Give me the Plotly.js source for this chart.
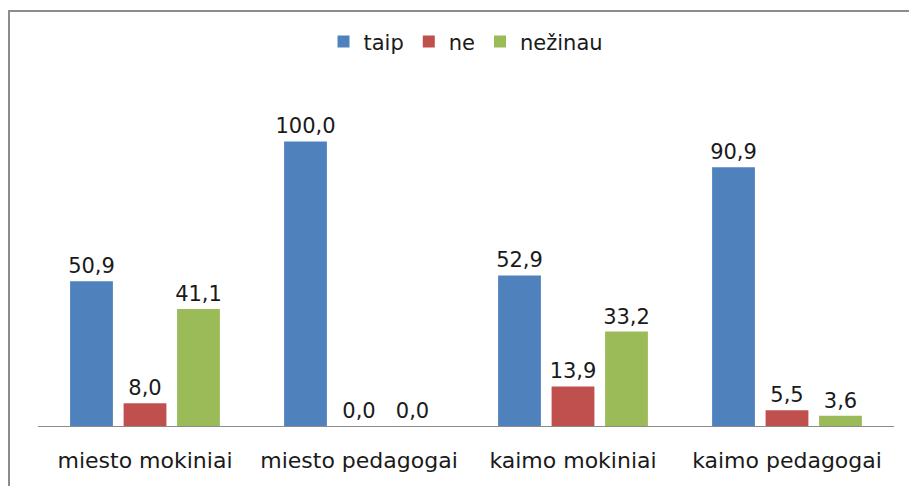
<!DOCTYPE html>
<html>
<head>
<meta charset="utf-8">
<script src="https://cdn.plot.ly/plotly-3.0.1.min.js"></script>
<style>
  html, body { margin: 0; padding: 0; background: #fff; }
  #wrap { position: relative; width: 909px; height: 486px; }
  #chart { position: absolute; left: 0; top: 0; width: 909px; height: 486px; }
  #frame { position: absolute; left: 8px; top: 10px; right: 0; bottom: -4px;
           border-left: 2px solid #8c8c8c; border-top: 2px solid #8c8c8c; pointer-events: none; }
</style>
</head>
<body>
<div id="wrap">
  <div id="chart"></div>
  <div id="frame"></div>
</div>
<script>
const categories = ["miesto mokiniai", "miesto pedagogai", "kaimo mokiniai", "kaimo pedagogai"];
const seriesNames = ["taip", "ne", "nežinau"];
const taip = [50.9, 100.0, 52.9, 90.9];
const ne = [8.0, 0.0, 13.9, 5.5];
const nezinau = [41.1, 0.0, 33.2, 3.6];
const colors = ["#4F81BD", "#C0504D", "#9BBB59"];

const font = "DejaVu Sans, sans-serif";
const allSeries = [taip, ne, nezinau];
const traces = allSeries.map((vals, i) => ({
  type: "bar",
  name: seriesNames[i],
  x: categories,
  y: vals,
  marker: { color: colors[i], line: { width: 12, color: "rgba(0,0,0,0)" } },
  texttemplate: "%{y:.1f}",
  textposition: "outside",
  textangle: 0,
  constraintext: "none",
  cliponaxis: false,
  textfont: { family: font, size: 21, color: "#1a1a1a" },
  hoverinfo: "none"
}));

const layout = {
  width: 909,
  height: 486,
  margin: { l: 38, r: 15, t: 56, b: 60 },
  paper_bgcolor: "#ffffff",
  plot_bgcolor: "#ffffff",
  separators: ", ",
  barmode: "group",
  bargap: 0.25,
  bargroupgap: 0.2,
  showlegend: true,
  legend: {
    orientation: "h",
    x: 0.5, xanchor: "center",
    y: 1.038, yanchor: "middle",
    font: { family: font, size: 21, color: "#1a1a1a" },
    itemwidth: 30,
    traceorder: "normal"
  },
  xaxis: {
    showline: true,
    linecolor: "#8c8c8c",
    linewidth: 1,
    ticks: "",
    showgrid: false,
    zeroline: false,
    ticklabelstandoff: 15,
    tickfont: { family: font, size: 22, color: "#1a1a1a" }
  },
  yaxis: {
    visible: false,
    range: [0, 130],
    showgrid: false,
    zeroline: false
  }
};

Plotly.newPlot("chart", traces, layout, { displayModeBar: false, staticPlot: true });
</script>
</body>
</html>
